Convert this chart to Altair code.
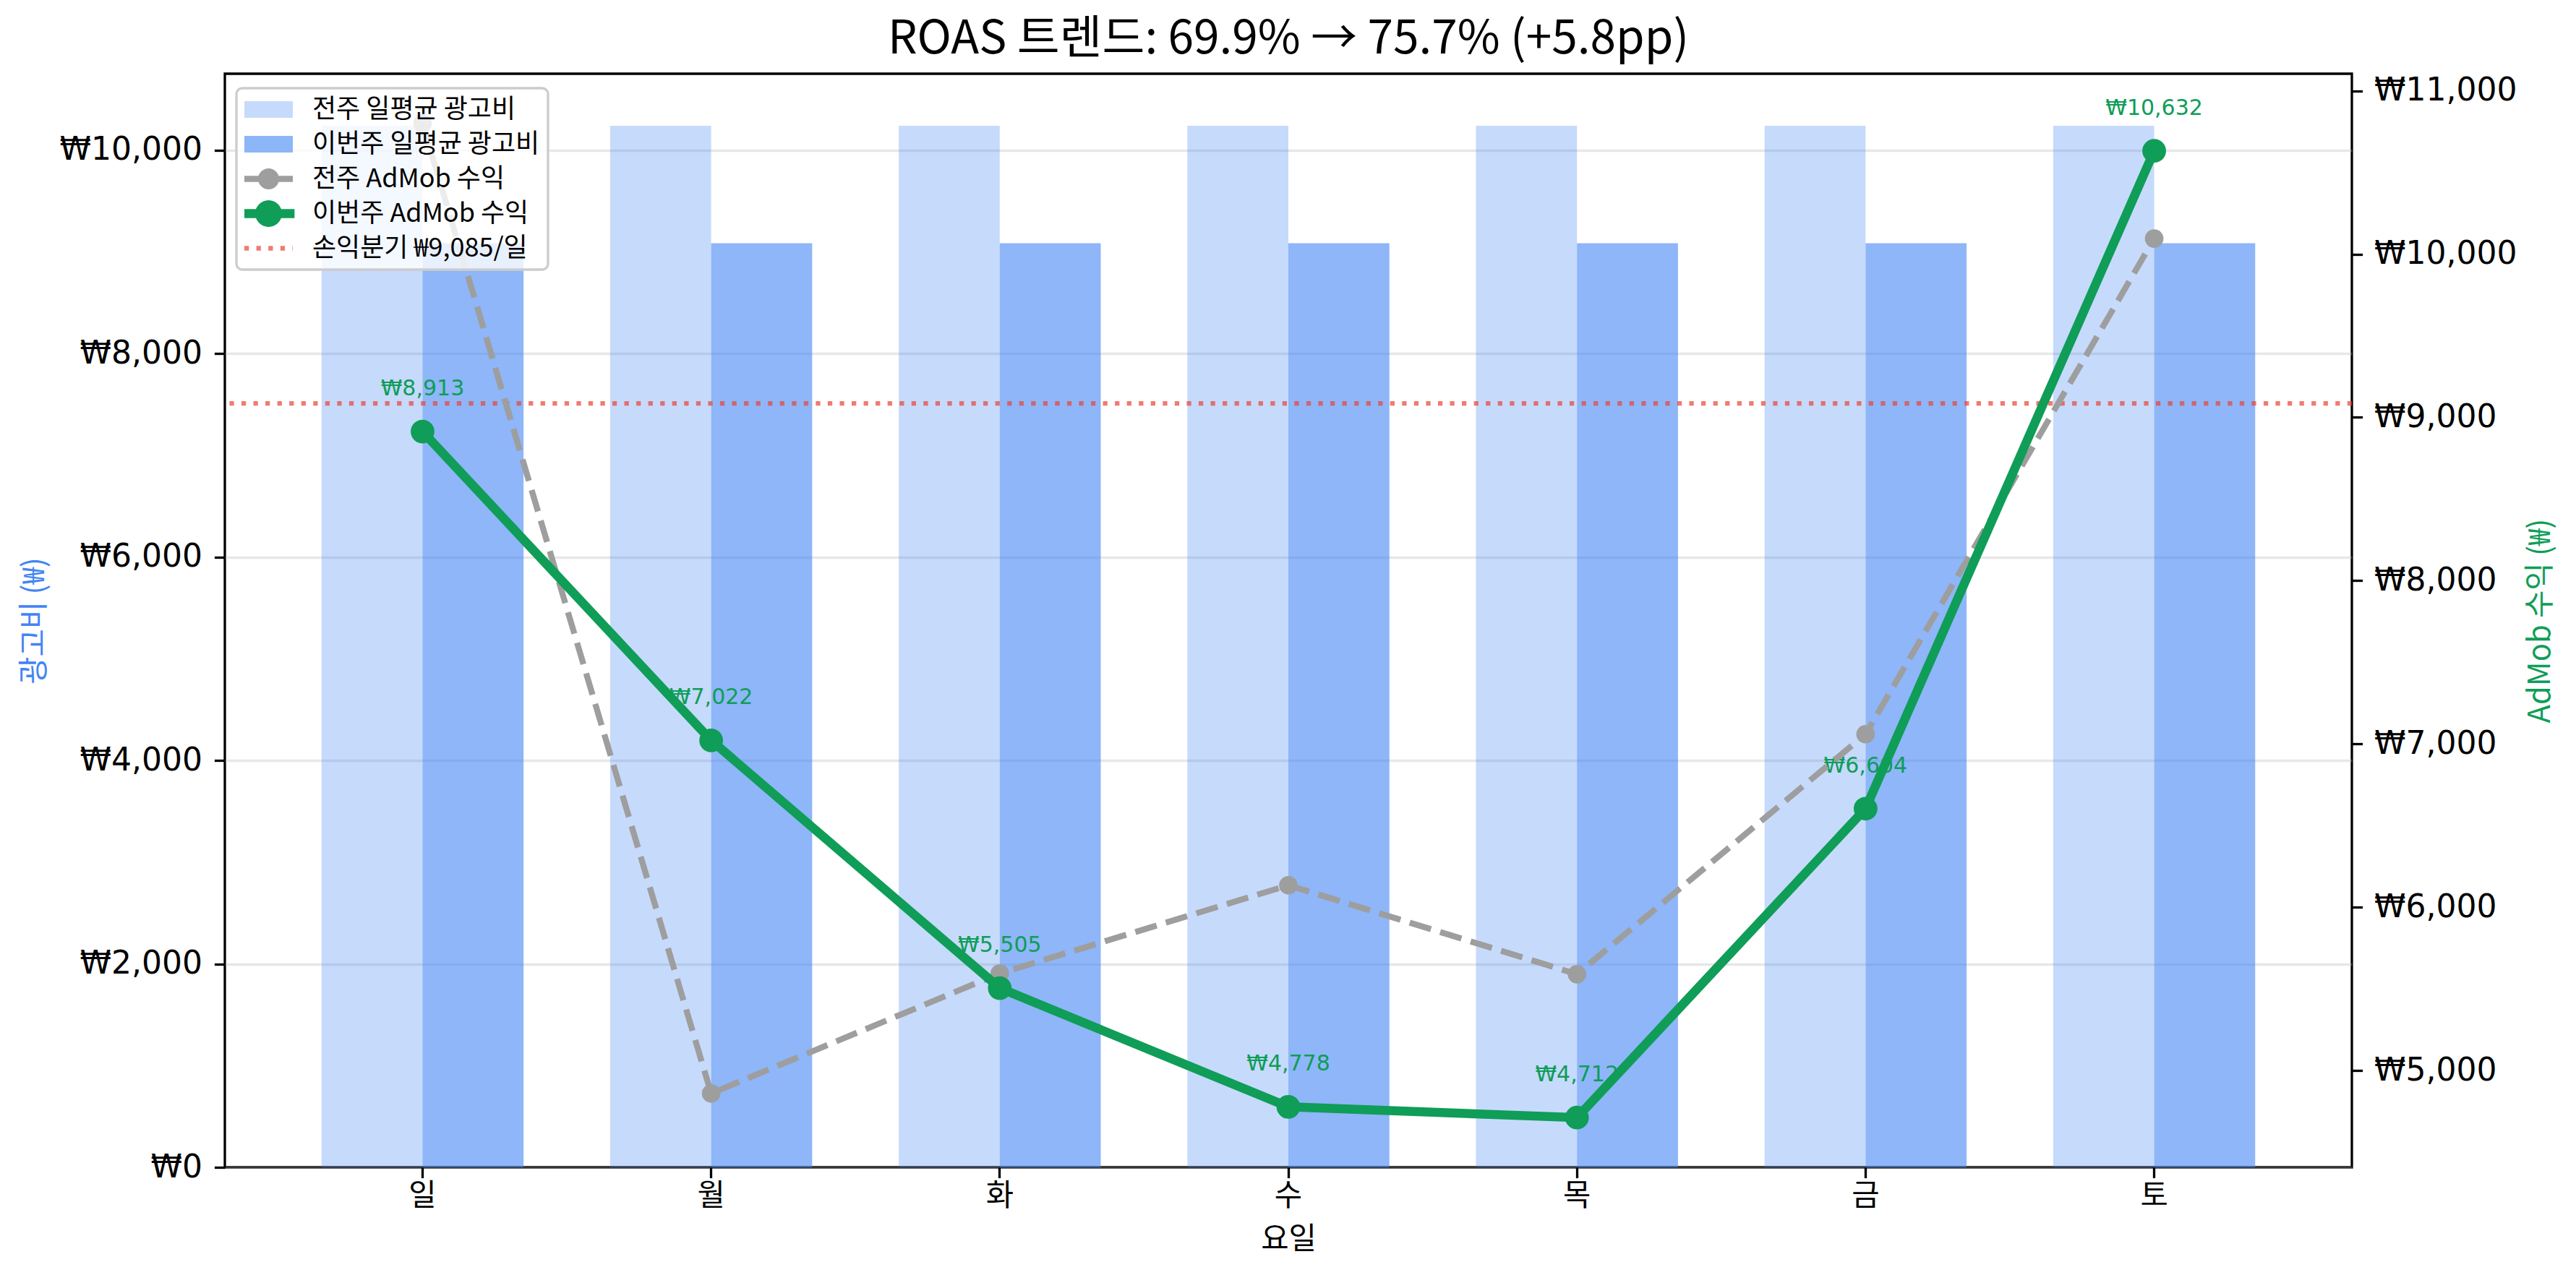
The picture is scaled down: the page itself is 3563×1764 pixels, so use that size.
import altair as alt
import pandas as pd

# ---------------- data ----------------
days = ['일', '월', '화', '수', '목', '금', '토']
week_labels = ['전주', '이번주']
prev_spend = [10240, 10240, 10240, 10240, 10240, 10240, 10240]
this_spend = [9085, 9085, 9085, 9085, 9085, 9085, 9085]
prev_rev = [10800, 4860, 5595, 6135, 5590, 7060, 10095]
this_rev = [8913, 7022, 5505, 4778, 4712, 6604, 10632]
break_even = [9085]
legend_names = ['전주 일평균 광고비', '이번주 일평균 광고비', '전주 AdMob 수익',
                '이번주 AdMob 수익', '손익분기 ₩9,085/일']
title_text = 'ROAS 트렌드: 69.9% → 75.7% (+5.8pp)'

# ---------------- styles ----------------
BLUE = '#4285F4'
GREEN = '#0F9D58'
GRAY = '#9E9E9E'
RED = '#EA4335'
KR = 'Noto Sans CJK KR'
NUM = 'DejaVu Sans'

W, H = 2942, 1513

bars_df = pd.DataFrame({
    'day': days * 2,
    'week': [week_labels[0]] * 7 + [week_labels[1]] * 7,
    'spend': prev_spend + this_spend,
})
prev_df = pd.DataFrame({'day': days, 'rev': prev_rev})
this_df = pd.DataFrame({'day': days, 'rev': this_rev})
be_df = pd.DataFrame({'rev': break_even})
legend_df = pd.DataFrame({'series': legend_names})

all_rev = prev_rev + this_rev
rmin, rmax = min(all_rev), max(all_rev)
rpad = 0.05 * (rmax - rmin)

x_enc = alt.X(
    'day:N', sort=days,
    scale=alt.Scale(paddingInner=0.3, paddingOuter=0.335),
    axis=alt.Axis(
        title='요일', labelAngle=0, labelFont=KR, labelFontSize=41.7,
        labelBaseline='alphabetic', labelPadding=38, tickSize=14.6,
        tickWidth=3.3, tickColor='black', domain=False, grid=False,
        titleFont=KR, titleFontSize=41.7, titleFontWeight='normal',
        titleY=112, titleBaseline='alphabetic', labelColor='black',
        titleColor='black'),
)

y_left = alt.Y(
    'spend:Q',
    scale=alt.Scale(domain=[0, max(prev_spend) * 1.05], nice=False, zero=True),
    axis=alt.Axis(
        orient='left', values=[0, 2000, 4000, 6000, 8000, 10000],
        labelExpr="'₩' + format(datum.value, ',')",
        labelFont=NUM, labelFontSize=44, labelPadding=17, labelColor='black',
        labelLimit=1000,
        tickSize=14.6, tickWidth=3.3, tickColor='black', domain=False,
        grid=True, gridColor='#b0b0b0', gridOpacity=0.3, gridWidth=3.3,
        title='광고비 (₩)', titleColor=BLUE, titleFont=KR, titleFontSize=41.7,
        titleFontWeight='normal', titleX=-264, titleY=H / 2,
        titleBaseline='middle', titleAngle=270),
)

y_right = alt.Y(
    'rev:Q',
    scale=alt.Scale(domain=[rmin - rpad, rmax + rpad], nice=False, zero=False),
    axis=alt.Axis(
        orient='right', values=[5000, 6000, 7000, 8000, 9000, 10000, 11000],
        labelExpr="'₩' + format(datum.value, ',')",
        labelFont=NUM, labelFontSize=44, labelPadding=16, labelColor='black',
        labelLimit=1000,
        tickSize=14.6, tickWidth=3.3, tickColor='black', domain=False,
        grid=False,
        title='AdMob 수익 (₩)', titleColor=GREEN, titleFont=KR,
        titleFontSize=41.7, titleFontWeight='normal', titleX=260,
        titleY=H / 2, titleBaseline='middle', titleAngle=270),
)

bars = alt.Chart(bars_df).mark_bar(color=BLUE).encode(
    x=x_enc,
    xOffset=alt.XOffset('week:N', sort=week_labels,
                        scale=alt.Scale(paddingInner=0, paddingOuter=0)),
    y=y_left,
    opacity=alt.Opacity('week:N', sort=week_labels,
                        scale=alt.Scale(domain=week_labels, range=[0.3, 0.6]),
                        legend=None),
)

rule = alt.Chart(be_df).mark_rule(
    color=RED, opacity=0.7, strokeWidth=6.25, strokeDash=[6.25, 10.3]
).encode(y=y_right)

labels = alt.Chart(this_df).transform_calculate(
    label="'₩' + format(datum.rev, ',')"
).mark_text(
    dy=-50, baseline='alphabetic', align='center', font=NUM, fontSize=30,
    color=GREEN
).encode(x=x_enc, y=y_right, text='label:N')

prev_line = alt.Chart(prev_df).mark_line(
    color=GRAY, strokeWidth=8.3, strokeDash=[30.8, 13.3]
).encode(x=x_enc, y=y_right)
prev_pts = alt.Chart(prev_df).mark_circle(
    color=GRAY, size=660, opacity=1
).encode(x=x_enc, y=y_right)

this_line = alt.Chart(this_df).mark_line(
    color=GREEN, strokeWidth=12.5
).encode(x=x_enc, y=y_right)
this_pts = alt.Chart(this_df).mark_circle(
    color=GREEN, size=1075, opacity=1
).encode(x=x_enc, y=y_right)

# legend symbols (unit = 18.5 px, symbol slot starts at x=-1)
bar_path = 'M-1,-0.622H2.622V0.622H-1Z'
gray_path = ('M-1,-0.224H2.622V0.224H-1Z '
             'M1.595,0A0.784,0.784 0 1,1 0.027,0A0.784,0.784 0 1,1 1.595,0Z')
green_path = ('M-1,-0.338H2.75V0.338H-1Z '
              'M1.811,0A1,1 0 1,1 -0.189,0A1,1 0 1,1 1.811,0Z')
red_path = ('M-1,-0.169H-0.662V0.169H-1Z M-0.103,-0.169H0.235V0.169H-0.103Z '
            'M0.795,-0.169H1.132V0.169H0.795Z M1.692,-0.169H2.03V0.169H1.692Z '
            'M2.59,-0.169H2.622V0.169H2.59Z')
legend_colors = ['#c6dafc', '#8db6f8', GRAY, GREEN, '#f07b72']
legend_shapes = [bar_path, bar_path, gray_path, green_path, red_path]

leg = alt.Legend(
    title=None, orient='none', legendX=16, legendY=20, symbolSize=1369,
    symbolStrokeWidth=0, symbolOpacity=1, labelFont=KR, labelFontSize=36,
    labelColor='black', labelOffset=57, rowPadding=11, padding=11,
    fillColor='rgba(255,255,255,0.8)', strokeColor='#cccccc',
    cornerRadius=8, labelLimit=1000,
)
legend_layer = alt.Chart(legend_df).mark_point(filled=True, opacity=0).encode(
    color=alt.Color('series:N', sort=legend_names,
                    scale=alt.Scale(domain=legend_names, range=legend_colors),
                    legend=leg),
    shape=alt.Shape('series:N', sort=legend_names,
                    scale=alt.Scale(domain=legend_names, range=legend_shapes),
                    legend=leg),
)

right = alt.layer(rule, labels, prev_line, prev_pts, this_line, this_pts,
                  legend_layer)

chart = alt.layer(bars, right).resolve_scale(y='independent').properties(
    width=W, height=H,
    autosize=alt.AutoSizeParams(type='none'),
    padding={'left': 303, 'top': 94, 'right': 302, 'bottom': 141},
    background='white',
    title=alt.Title(title_text, font=KR, fontSize=64, fontWeight='normal',
                    anchor='middle', offset=-36, baseline='alphabetic',
                    color='black'),
).configure_view(stroke='black', strokeWidth=3.3
).configure_legend(strokeWidth=3.3)

chart.save('out.html', embed_options={'renderer': 'svg', 'actions': False})
